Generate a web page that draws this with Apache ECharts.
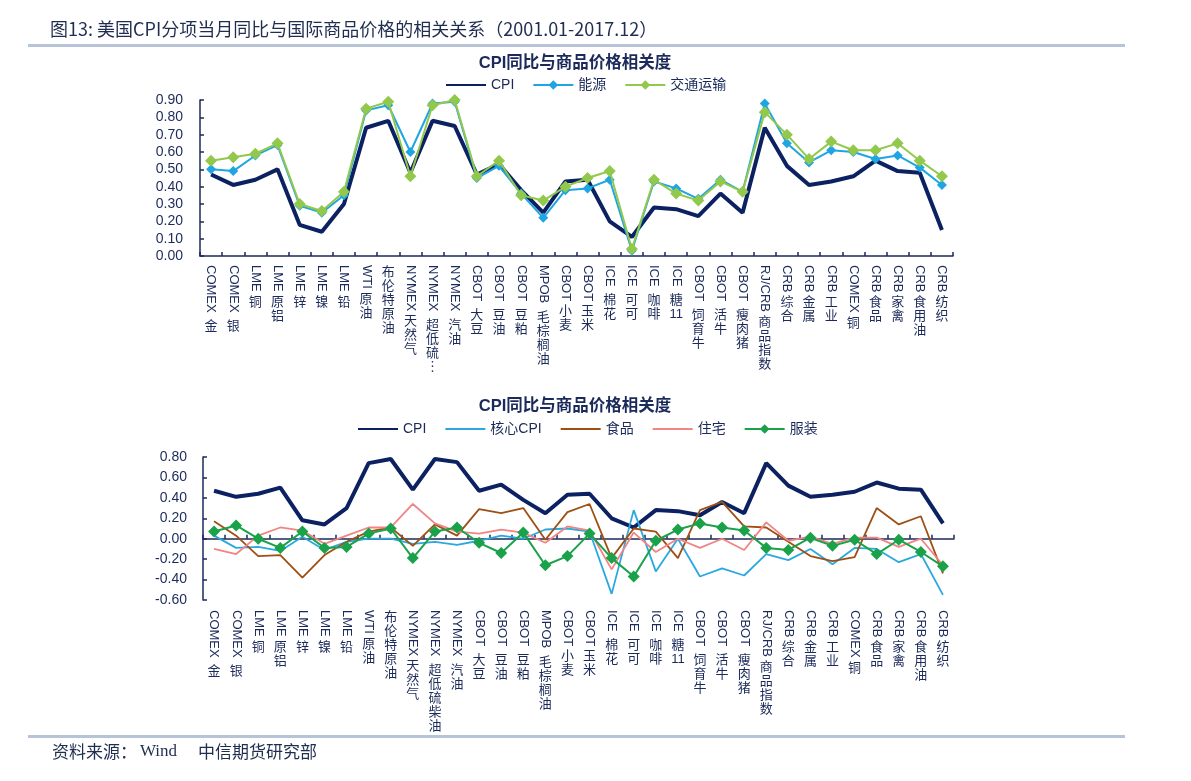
<!DOCTYPE html>
<html><head><meta charset="utf-8">
<script src="https://cdn.jsdelivr.net/npm/echarts@6/dist/echarts.min.js"></script>
<style>html,body{margin:0;padding:0;background:#fff}#c{width:1191px;height:781px}</style>
</head><body><div id="c"></div>
<script>
// ---------- data ----------
const catsTop = ['COMEX 金','COMEX 银','LME铜','LME原铝','LME锌','LME镍','LME铅','WTI原油','布伦特原油','NYMEX天然气','NYMEX 超低硫…','NYMEX 汽油','CBOT 大豆','CBOT 豆油','CBOT 豆粕','MPOB 毛棕榈油','CBOT小麦','CBOT玉米','ICE 棉花','ICE 可可','ICE 咖啡','ICE 糖11','CBOT 饲育牛','CBOT 活牛','CBOT 瘦肉猪','RJ/CRB商品指数','CRB综合','CRB金属','CRB工业','COMEX铜','CRB食品','CRB家禽','CRB食用油','CRB纺织'];
const catsBottom = ['COMEX 金','COMEX 银','LME铜','LME原铝','LME锌','LME镍','LME铅','WTI原油','布伦特原油','NYMEX天然气','NYMEX 超低硫柴油','NYMEX 汽油','CBOT 大豆','CBOT 豆油','CBOT 豆粕','MPOB 毛棕榈油','CBOT小麦','CBOT玉米','ICE 棉花','ICE 可可','ICE 咖啡','ICE 糖11','CBOT 饲育牛','CBOT 活牛','CBOT 瘦肉猪','RJ/CRB商品指数','CRB综合','CRB金属','CRB工业','COMEX铜','CRB食品','CRB家禽','CRB食用油','CRB纺织'];

const cpi       = [0.47,0.41,0.44,0.50,0.18,0.14,0.30,0.74,0.78,0.48,0.78,0.75,0.47,0.53,0.38,0.25,0.43,0.44,0.20,0.11,0.28,0.27,0.23,0.36,0.25,0.74,0.52,0.41,0.43,0.46,0.55,0.49,0.48,0.15];
const energy    = [0.50,0.49,0.58,0.64,0.29,0.25,0.35,0.84,0.87,0.60,0.88,0.89,0.45,0.52,0.36,0.22,0.38,0.39,0.44,0.03,0.43,0.39,0.33,0.44,0.37,0.88,0.65,0.54,0.61,0.60,0.56,0.58,0.51,0.41];
const transport = [0.55,0.57,0.59,0.65,0.30,0.26,0.37,0.85,0.89,0.46,0.87,0.90,0.46,0.55,0.35,0.32,0.40,0.45,0.49,0.04,0.44,0.36,0.32,0.43,0.37,0.83,0.70,0.56,0.66,0.61,0.61,0.65,0.55,0.46];

const coreCpi   = [0.03,-0.09,-0.08,-0.12,0.02,-0.11,-0.03,0.00,0.00,-0.05,-0.03,-0.06,-0.02,0.03,0.00,0.09,0.10,0.07,-0.54,0.28,-0.32,0.00,-0.37,-0.29,-0.36,-0.15,-0.21,-0.10,-0.25,-0.09,-0.10,-0.23,-0.15,-0.55];
const food      = [0.17,0.03,-0.17,-0.16,-0.38,-0.16,-0.03,0.07,0.11,-0.07,0.14,0.03,0.29,0.25,0.30,-0.01,0.26,0.34,-0.19,0.10,0.07,-0.19,0.28,0.36,0.12,0.11,-0.03,-0.17,-0.22,-0.18,0.30,0.14,0.22,-0.34];
const housing   = [-0.10,-0.15,0.03,0.11,0.08,-0.05,0.03,0.11,0.11,0.34,0.15,0.07,0.05,0.09,0.06,-0.04,0.12,0.08,-0.30,0.06,-0.13,0.00,-0.09,0.00,-0.11,0.16,-0.02,0.02,-0.05,0.01,0.01,-0.08,0.00,-0.26];
const clothing  = [0.07,0.13,0.00,-0.09,0.07,-0.09,-0.08,0.05,0.10,-0.19,0.07,0.11,-0.04,-0.14,0.06,-0.26,-0.17,0.05,-0.19,-0.37,-0.02,0.09,0.15,0.11,0.08,-0.09,-0.11,0.01,-0.07,-0.01,-0.15,-0.01,-0.13,-0.27];

const mainTitle = '图13: 美国CPI分项当月同比与国际商品价格的相关关系（2001.01-2017.12）';
const chartTitle = 'CPI同比与商品价格相关度';
const legendTop = ['CPI','能源','交通运输'];
const legendBottom = ['CPI','核心CPI','食品','住宅','服装'];
const lineOnly = ['CPI','核心CPI','食品','住宅'];

// ---------- styling ----------
const NAVY = '#1b2a5a';
const FONT = '"Liberation Sans", Arial, "Noto Sans CJK SC", sans-serif';
const LBL = 13;

const ctx = document.createElement('canvas').getContext('2d');
ctx.font = LBL + 'px ' + FONT;

function splitLabel(s) {
  const m = s.search(/[\u2026\u4e00-\u9fff]/);
  if (m < 0) return [s, ''];
  return [s.slice(0, m), s.slice(m)];
}
function stackLines(s) {
  const toks = s.match(/[0-9A-Za-z]+|./g) || [];
  return toks.map(t => t === '…' ? '︙' : t);
}
function buildRich(cats) {
  const rich = {};
  cats.forEach((c, i) => {
    const lat = splitLabel(c)[0];
    if (lat) {
      const h = Math.round(ctx.measureText(lat).width + 3);
      rich['s' + i] = { height: h, lineHeight: h, fontSize: 1 };
    }
  });
  return rich;
}
function cjkFormatter(cats) {
  return function (v, i) {
    const parts = splitLabel(cats[i]);
    const lines = stackLines(parts[1]);
    if (!lines.length) return '';
    return (parts[0] ? '{s' + i + '|}\n' : '') + lines.join('\n');
  };
}
function latinLabel(cats, margin) {
  return {
    show: true, interval: 0, rotate: -90, margin: margin,
    fontSize: LBL, fontFamily: FONT, color: NAVY,
    formatter: (v, i) => splitLabel(cats[i])[0].trim()
  };
}
function cjkLabel(cats, margin) {
  return {
    show: true, interval: 0, rotate: 0, margin: margin,
    fontSize: LBL, lineHeight: 14, fontFamily: FONT, color: NAVY,
    formatter: cjkFormatter(cats), rich: buildRich(cats)
  };
}
function legendData(names) {
  return names.map(n => lineOnly.indexOf(n) >= 0 ? { name: n, itemStyle: { opacity: 0 } } : { name: n });
}
const axisLineStyle = { color: NAVY, width: 1.5 };
const yLabel = (m) => ({ fontSize: 14, fontFamily: FONT, color: NAVY, margin: m, formatter: v => v.toFixed(2) });

const chart = echarts.init(document.getElementById('c'), null, { renderer: 'canvas' });
chart.setOption({
  animation: false,
  backgroundColor: '#fff',
  graphic: [
    { type: 'rect', shape: { x: 28, y: 44, width: 1097, height: 3 }, style: { fill: '#b7c3d7' } },
    { type: 'rect', shape: { x: 28, y: 735, width: 1097, height: 3 }, style: { fill: '#b7c3d7' } },
    { type: 'text', x: 50, y: 29, style: { text: mainTitle, font: '18px "Noto Sans CJK SC", sans-serif', fill: '#1f2d4f', align: 'left', verticalAlign: 'middle' } },
    { type: 'text', x: 575, y: 63, style: { text: chartTitle, font: 'bold 16.5px "Liberation Sans", "Noto Sans CJK SC", sans-serif', fill: NAVY, align: 'center', verticalAlign: 'middle' } },
    { type: 'text', x: 575, y: 406, style: { text: chartTitle, font: 'bold 16.5px "Liberation Sans", "Noto Sans CJK SC", sans-serif', fill: NAVY, align: 'center', verticalAlign: 'middle' } },
    { type: 'text', x: 52, y: 752, style: { text: '资料来源：', font: '17px "Noto Sans CJK SC", sans-serif', fill: '#1f2d4f', align: 'left', verticalAlign: 'middle' } },
    { type: 'text', x: 140, y: 752, style: { text: 'Wind', font: '17px "Liberation Serif", "Times New Roman", serif', fill: '#1f2d4f', align: 'left', verticalAlign: 'middle' } },
    { type: 'text', x: 198, y: 752, style: { text: '中信期货研究部', font: '17px "Noto Sans CJK SC", sans-serif', fill: '#1f2d4f', align: 'left', verticalAlign: 'middle' } }
  ],
  legend: [
    { data: legendData(legendTop), left: 445, top: 78, padding: 0, itemWidth: 40, itemHeight: 12, itemGap: 18,
      textStyle: { fontSize: 14, fontFamily: FONT, color: NAVY } },
    { data: legendData(legendBottom), left: 357, top: 422, padding: 0, itemWidth: 40, itemHeight: 12, itemGap: 18,
      textStyle: { fontSize: 14, fontFamily: FONT, color: NAVY } }
  ],
  grid: [
    { left: 200, right: 238, top: 100, height: 156 },
    { left: 203, right: 237, top: 457, height: 143 }
  ],
  xAxis: [
    { type: 'category', gridIndex: 0, position: 'bottom', data: catsTop, boundaryGap: true,
      axisLine: { show: true, lineStyle: axisLineStyle },
      axisTick: { show: true, inside: true, length: 4, interval: 0, lineStyle: axisLineStyle },
      axisLabel: latinLabel(catsTop, 9), splitLine: { show: false } },
    { type: 'category', gridIndex: 0, position: 'bottom', data: catsTop, boundaryGap: true,
      axisLine: { show: false }, axisTick: { show: false },
      axisLabel: cjkLabel(catsTop, 9), splitLine: { show: false } },
    { type: 'category', gridIndex: 1, position: 'bottom', data: catsBottom, boundaryGap: true,
      axisLine: { show: true, onZero: true, lineStyle: axisLineStyle },
      axisTick: { show: true, inside: true, length: 4, interval: 0, lineStyle: axisLineStyle },
      axisLabel: { show: false }, splitLine: { show: false } },
    { type: 'category', gridIndex: 1, position: 'bottom', data: catsBottom, boundaryGap: true,
      axisLine: { show: false, onZero: false }, axisTick: { show: false },
      axisLabel: latinLabel(catsBottom, 10), splitLine: { show: false } },
    { type: 'category', gridIndex: 1, position: 'bottom', data: catsBottom, boundaryGap: true,
      axisLine: { show: false, onZero: false }, axisTick: { show: false },
      axisLabel: cjkLabel(catsBottom, 10), splitLine: { show: false } }
  ],
  yAxis: [
    { type: 'value', gridIndex: 0, min: 0, max: 0.9, interval: 0.1,
      axisLine: { show: true, lineStyle: axisLineStyle },
      axisTick: { show: true, inside: true, length: 4, lineStyle: axisLineStyle },
      axisLabel: yLabel(17), splitLine: { show: false } },
    { type: 'value', gridIndex: 1, min: -0.6, max: 0.8, interval: 0.2,
      axisLine: { show: true, onZero: false, lineStyle: axisLineStyle },
      axisTick: { show: true, inside: true, length: 4, lineStyle: axisLineStyle },
      axisLabel: yLabel(16), splitLine: { show: false } }
  ],
  series: [
    { name: 'CPI', type: 'line', xAxisIndex: 0, yAxisIndex: 0, data: cpi, symbol: 'none',
      color: '#0c2161', lineStyle: { width: 4, color: '#0c2161' }, z: 2 },
    { name: '能源', type: 'line', xAxisIndex: 0, yAxisIndex: 0, data: energy, symbol: 'diamond', symbolSize: 10,
      color: '#1fa6e2', lineStyle: { width: 2, color: '#1fa6e2' }, itemStyle: { color: '#1fa6e2' }, z: 3 },
    { name: '交通运输', type: 'line', xAxisIndex: 0, yAxisIndex: 0, data: transport, symbol: 'diamond', symbolSize: 12,
      color: '#92c84b', lineStyle: { width: 2, color: '#92c84b' }, itemStyle: { color: '#92c84b' }, z: 4 },

    { name: 'CPI', type: 'line', xAxisIndex: 2, yAxisIndex: 1, data: cpi, symbol: 'none',
      color: '#0c2161', lineStyle: { width: 4, color: '#0c2161' }, z: 2 },
    { name: '核心CPI', type: 'line', xAxisIndex: 2, yAxisIndex: 1, data: coreCpi, symbol: 'none',
      color: '#2aa8e0', lineStyle: { width: 1.8, color: '#2aa8e0' }, z: 3 },
    { name: '食品', type: 'line', xAxisIndex: 2, yAxisIndex: 1, data: food, symbol: 'none',
      color: '#9e4f14', lineStyle: { width: 1.8, color: '#9e4f14' }, z: 3 },
    { name: '住宅', type: 'line', xAxisIndex: 2, yAxisIndex: 1, data: housing, symbol: 'none',
      color: '#f28484', lineStyle: { width: 1.8, color: '#f28484' }, z: 3 },
    { name: '服装', type: 'line', xAxisIndex: 2, yAxisIndex: 1, data: clothing, symbol: 'diamond', symbolSize: 12,
      color: '#1aa24b', lineStyle: { width: 2, color: '#1aa24b' }, itemStyle: { color: '#1aa24b' }, z: 4 }
  ]
});
</script></body></html>
